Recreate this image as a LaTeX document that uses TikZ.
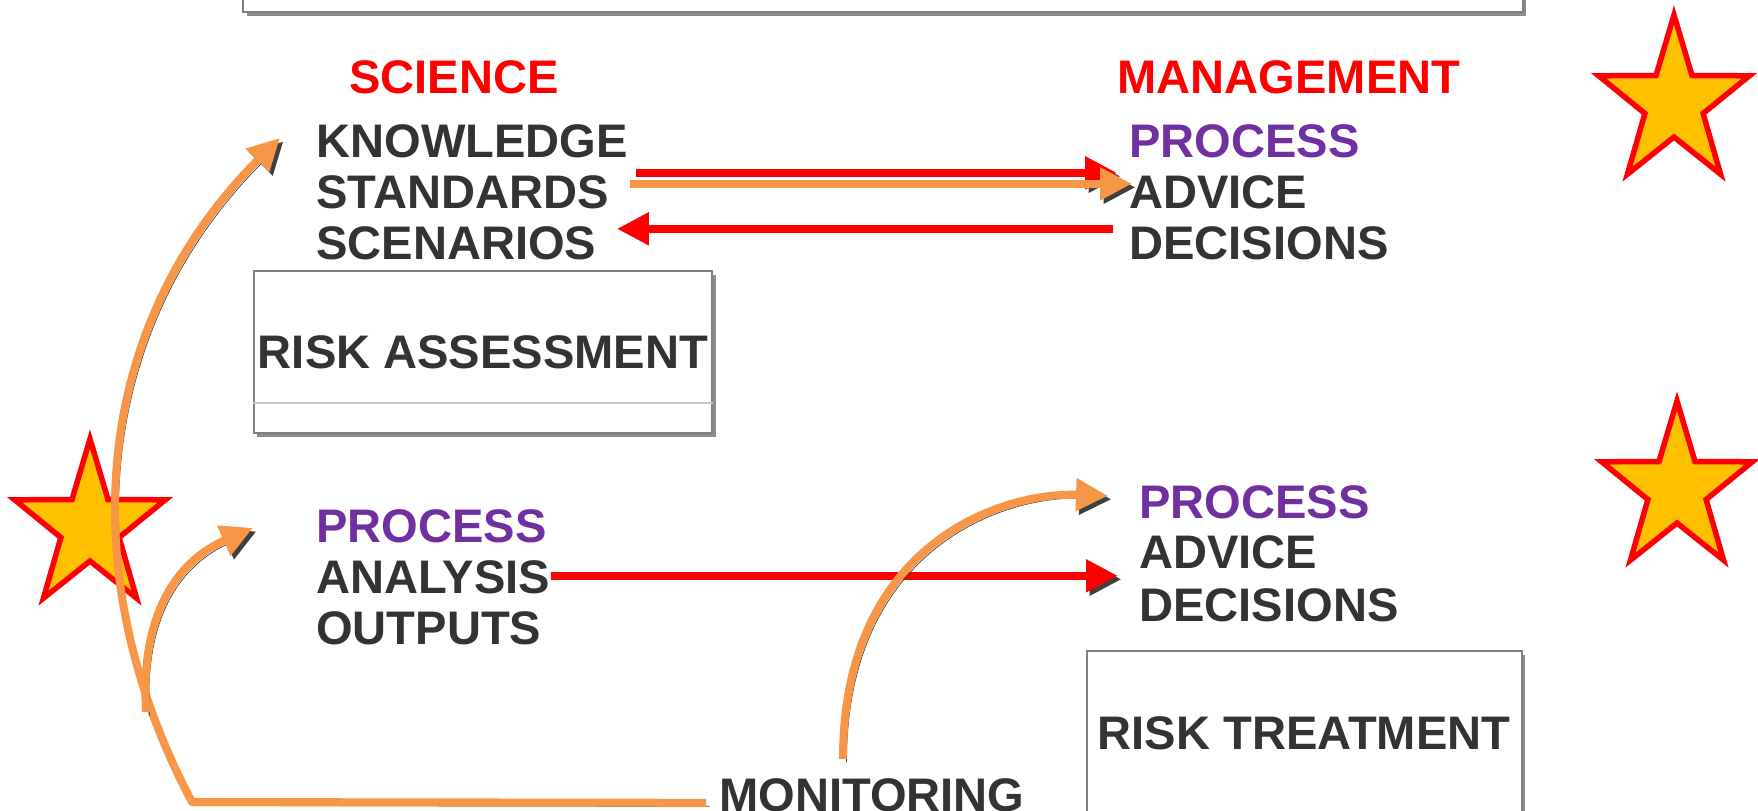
\documentclass[tikz,border=0pt]{standalone}
\usepackage{fontspec}
\setmainfont{Liberation Sans}
\usepackage{tikz}
\usetikzlibrary{arrows.meta,calc,shadows}
\definecolor{riskred}{HTML}{FF0000}
\definecolor{riskorange}{HTML}{F79646}
\definecolor{riskpurple}{HTML}{7030A0}
\definecolor{riskgray}{HTML}{333333}
\definecolor{stargold}{HTML}{FFC000}
\tikzset{
    base-text/.style = {font=\bfseries\fontsize{26.8}{30}\selectfont, text=riskgray, inner sep=0pt, anchor=base west},
    head-text/.style = {base-text, text=riskred, anchor=base},
    process-text/.style = {base-text, text=riskpurple},
    risk-box/.style = {draw=gray, fill=white, line width=0.4mm, inner sep=0pt, font=\bfseries\fontsize{26.8}{30}\selectfont, text=riskgray,
        drop shadow={shadow xshift=0.7mm, shadow yshift=-0.7mm, fill=gray!90, opacity=1}},
    arrow-shadow/.style = {preaction={draw=black!75, transform canvas={xshift=0.7mm, yshift=-0.7mm}}},
    red-arrow/.style = {draw=riskred, line width=1.6mm, -{Triangle[length=6.4mm, width=6.2mm]}},
    orange-arrow/.style = {draw=riskorange, line width=1.6mm, line join=round, -{Triangle[length=6.4mm, width=6.2mm]}},
    star-shape/.style = {draw=riskred, fill=stargold, line width=1.1mm},
}

\begin{document}
\begin{tikzpicture}[x=0.2mm, y=-0.2mm]
\useasboundingbox (0,0) rectangle (1758,810);

\foreach \sx/\sy in {90/527, 1674/103, 1677/489}
    \draw[star-shape, shift={(\sx,\sy)}, xscale=0.9] (-90:88)
        \foreach \a/\r in {-54/34, -18/88, 18/34, 54/88, 90/34, 126/88, 162/34, 198/88, 234/34} { -- (\a:\r) } -- cycle;

\node[risk-box, minimum width=255.8mm, minimum height=22.4mm] (topbox) at (883,-44) {};
\node[risk-box, minimum width=91.6mm, minimum height=32.4mm] (assess) at (483,352) {RISK ASSESSMENT};
\draw[gray!45, line width=0.3mm] ($(assess.south west)+(0,-31)$) -- ($(assess.south east)+(0,-31)$);
\node[risk-box, minimum width=87mm, minimum height=32.8mm] (treat) at (1304,733) {RISK TREATMENT};

\node[head-text] (science) at (454,93) {SCIENCE};
\node[head-text] (management) at (1289,93) {MANAGEMENT};

\node[base-text] (knowledge) at (316,157) {KNOWLEDGE};
\node[base-text] (standards) at (316,208) {STANDARDS};
\node[base-text] (scenarios) at (316,259) {SCENARIOS};
\node[process-text] (process-a) at (1129,157) {PROCESS};
\node[base-text] (advice-a) at (1129,208) {ADVICE};
\node[base-text] (decisions-a) at (1129,259) {DECISIONS};

\node[process-text] (process-b) at (316,542) {PROCESS};
\node[base-text] (analysis) at (316,593) {ANALYSIS};
\node[base-text] (outputs) at (316,644) {OUTPUTS};
\node[process-text] (process-c) at (1139,518) {PROCESS};
\node[base-text] (advice-c) at (1139,568) {ADVICE};
\node[base-text] (decisions-c) at (1139,621) {DECISIONS};

\node[base-text] (monitoring) at (719,811) {MONITORING};

\draw[red-arrow, arrow-shadow] ($(knowledge.south east)+(8,15)$) -- ($(knowledge.south -| advice-a.west)+(-12,15)$);
\draw[orange-arrow, arrow-shadow] ($(standards.south east)+(21,-25)$) -- ($(standards.south -| advice-a.west)+(3,-25)$);
\draw[red-arrow] ($(standards.south -| decisions-a.west)+(-16,20)$) -- ($(standards.south east)+(8,20)$);
\draw[red-arrow, arrow-shadow] ($(analysis.south east)+(0,-18)$) -- ($(analysis.south -| advice-c.west)+(-21,-18)$);

\coordinate (loop-split) at (146,712);
\draw[orange-arrow, arrow-shadow] ($(monitoring.south west)+(-13,-9)$) -- (192,802)
    .. controls (74,580) and (88,330) .. ($(knowledge.south west)+(-36,-20)$);
\draw[orange-arrow, arrow-shadow] (loop-split) .. controls (140,610) and (180,560) .. ($(process-b.south west)+(-63,-15)$);
\draw[orange-arrow, arrow-shadow] ($(monitoring.south west)+(124,-53)$)
    .. controls (843,545) and (1000,492) .. ($(process-c.south west)+(-31,-23)$);
\end{tikzpicture}
\end{document}
